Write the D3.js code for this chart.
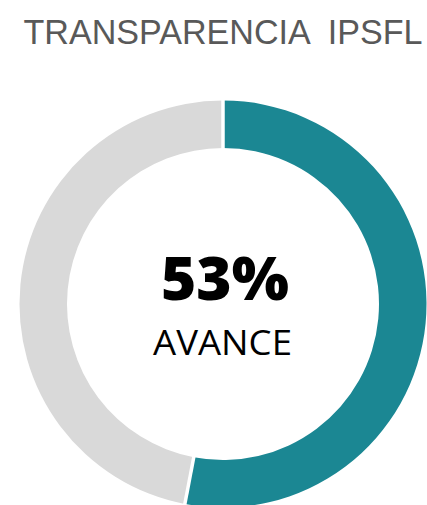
<!DOCTYPE html>
<html>
<head>
<meta charset="utf-8">
<script src="https://cdn.jsdelivr.net/npm/d3@7"></script>
<style>
  html, body { margin: 0; padding: 0; background: #ffffff; }
  svg { display: block; }
  text.title { white-space: pre; }
</style>
</head>
<body>
<div id="chart"></div>
<script>
const categories = ["Avance", "Pendiente"];
const values = [53, 47];
const colors = ["#1B8793", "#D9D9D9"];
const titleText = "TRANSPARENCIA  IPSFL";
const centerValue = "53%";
const centerLabel = "AVANCE";

const W = 427, H = 505;
const cx = 223, cy = 304;
const outerR = 203.5, innerR = 156;

const svg = d3.select("#chart").append("svg")
  .attr("width", W).attr("height", H);

svg.append("text")
  .attr("class", "title")
  .attr("x", 223).attr("y", 44)
  .attr("text-anchor", "middle")
  .attr("font-family", "'Liberation Sans', Arial, sans-serif")
  .attr("font-size", 34.5)
  .attr("fill", "#595959")
  .attr("textLength", 399)
  .attr("lengthAdjust", "spacingAndGlyphs")
  .text(titleText);

const pie = d3.pie().sort(null).value(d => d.value);
const arc = d3.arc().innerRadius(innerR).outerRadius(outerR);

const data = categories.map((c, i) => ({ name: c, value: values[i] }));
const color = d3.scaleOrdinal().domain(categories).range(colors);

const g = svg.append("g").attr("transform", `translate(${cx},${cy})`);
g.selectAll("path.slice")
  .data(pie(data))
  .join("path")
  .attr("class", "slice")
  .attr("d", arc)
  .attr("fill", d => color(d.data.name));

// white separators between slices
g.selectAll("line.sep")
  .data(pie(data))
  .join("line")
  .attr("class", "sep")
  .attr("x1", d => Math.sin(d.startAngle) * (innerR - 2))
  .attr("y1", d => -Math.cos(d.startAngle) * (innerR - 2))
  .attr("x2", d => Math.sin(d.startAngle) * (outerR + 2))
  .attr("y2", d => -Math.cos(d.startAngle) * (outerR + 2))
  .attr("stroke", "#ffffff")
  .attr("stroke-width", 3.5);

svg.append("text")
  .attr("x", 225).attr("y", 300)
  .attr("text-anchor", "middle")
  .attr("font-family", "'Open Sans', 'Noto Sans', sans-serif")
  .attr("font-weight", 800)
  .attr("font-size", 60)
  .attr("fill", "#000000")
  .attr("textLength", 128)
  .attr("lengthAdjust", "spacingAndGlyphs")
  .text(centerValue);

svg.append("text")
  .attr("x", 222.5).attr("y", 355)
  .attr("text-anchor", "middle")
  .attr("font-family", "'Open Sans', 'Noto Sans', sans-serif")
  .attr("font-size", 35)
  .attr("fill", "#000000")
  .attr("textLength", 139)
  .attr("lengthAdjust", "spacingAndGlyphs")
  .text(centerLabel);
</script>
</body>
</html>
